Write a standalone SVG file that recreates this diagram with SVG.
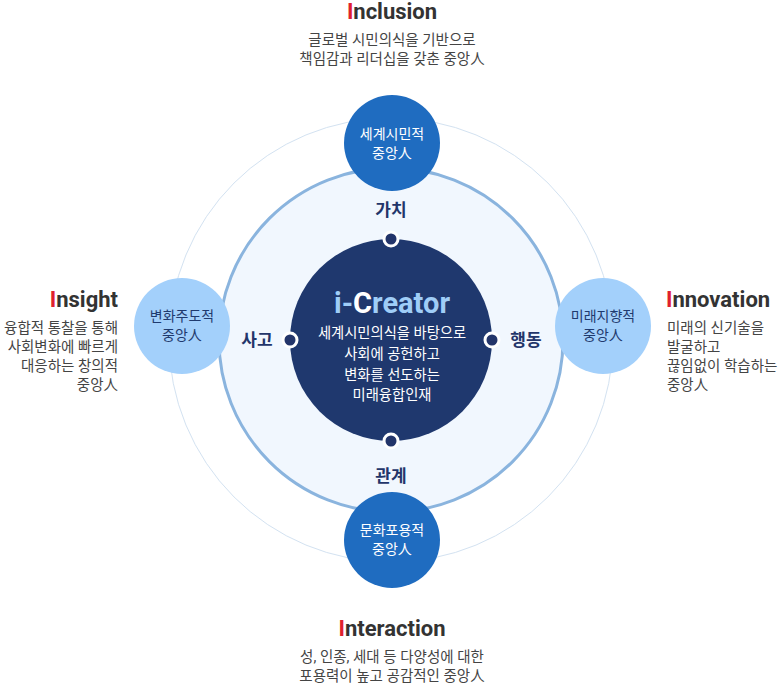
<svg xmlns="http://www.w3.org/2000/svg" width="784" height="687" viewBox="0 0 784 687">
<style>
text{font-family:Roboto,"Noto Sans CJK KR",sans-serif}
.t{font-size:22px;font-weight:700;fill:#333}
.r{fill:#e0202e}
.d{font-size:14.5px;fill:#444}
.bl{font-size:14px;fill:#fff}
.bd{font-size:14px;fill:#1f3a6e}
.k{font-size:17px;font-weight:700;fill:#23356a}
.dot{fill:#23356a;stroke:#fff;stroke-width:3}
</style>
<rect width="784" height="687" fill="#fff"/>
<g id="rings">
<circle cx="391" cy="340" r="222" fill="none" stroke="#d3e2f1" stroke-width="1"/>
<circle cx="391" cy="340" r="172" fill="#f1f7fe" stroke="#8ab4de" stroke-width="3"/>
<circle cx="391" cy="340" r="101" fill="#1f386e"/>
</g>
<g id="connectors">
<circle class="dot" cx="391" cy="239" r="7"/>
<circle class="dot" cx="391" cy="441" r="7"/>
<circle class="dot" cx="290" cy="340" r="7"/>
<circle class="dot" cx="492" cy="340" r="7"/>
</g>
<g id="center" text-anchor="middle">
<text x="392" y="313" font-size="29" font-weight="700" fill="#9fcdf7">i-<tspan fill="#fff">C</tspan>reator</text>
<text x="392" y="338" class="bl" style="font-size:14.3px">세계시민의식을 바탕으로</text>
<text x="392" y="359" class="bl" style="font-size:14.3px">사회에 공헌하고</text>
<text x="392" y="380" class="bl" style="font-size:14.3px">변화를 선도하는</text>
<text x="392" y="400" class="bl" style="font-size:14.3px">미래융합인재</text>
</g>
<g id="axis" text-anchor="middle">
<text class="k" x="391" y="216">가치</text>
<text class="k" x="391" y="482">관계</text>
<text class="k" x="257" y="346">사고</text>
<text class="k" x="526" y="346">행동</text>
</g>
<g id="n-top" text-anchor="middle">
<circle cx="392" cy="143" r="48" fill="#1f6cc0"/>
<text class="bl" x="392" y="139">세계시민적</text>
<text class="bl" x="392" y="158">중앙人</text>
</g>
<g id="n-bottom" text-anchor="middle">
<circle cx="392" cy="540" r="48" fill="#1f6cc0"/>
<text class="bl" x="392" y="535">문화포용적</text>
<text class="bl" x="392" y="554">중앙人</text>
</g>
<g id="n-left" text-anchor="middle">
<circle cx="182" cy="326" r="48" fill="#a3d0fb"/>
<text class="bd" x="182" y="321">변화주도적</text>
<text class="bd" x="182" y="340">중앙人</text>
</g>
<g id="n-right" text-anchor="middle">
<circle cx="603" cy="326" r="48" fill="#a3d0fb"/>
<text class="bd" x="603" y="321">미래지향적</text>
<text class="bd" x="603" y="340">중앙人</text>
</g>
<g id="l-top" text-anchor="middle">
<text class="t" x="392" y="19"><tspan class="r">I</tspan>nclusion</text>
<text class="d" x="392" y="45">글로벌 시민의식을 기반으로</text>
<text class="d" x="392" y="64">책임감과 리더십을 갖춘 중앙人</text>
</g>
<g id="l-bottom" text-anchor="middle">
<text class="t" x="392" y="636"><tspan class="r">I</tspan>nteraction</text>
<text class="d" x="392" y="662">성, 인종, 세대 등 다양성에 대한</text>
<text class="d" x="392" y="681">포용력이 높고 공감적인 중앙人</text>
</g>
<g id="l-left" text-anchor="end">
<text class="t" x="118" y="307"><tspan class="r">I</tspan>nsight</text>
<text class="d" x="118" y="333">융합적 통찰을 통해</text>
<text class="d" x="118" y="352">사회변화에 빠르게</text>
<text class="d" x="118" y="371">대응하는 창의적</text>
<text class="d" x="118" y="390">중앙人</text>
</g>
<g id="l-right">
<text class="t" x="666" y="307"><tspan class="r">I</tspan>nnovation</text>
<text class="d" x="667" y="333">미래의 신기술을</text>
<text class="d" x="667" y="352">발굴하고</text>
<text class="d" x="667" y="371">끊임없이 학습하는</text>
<text class="d" x="667" y="390">중앙人</text>
</g>
</svg>
